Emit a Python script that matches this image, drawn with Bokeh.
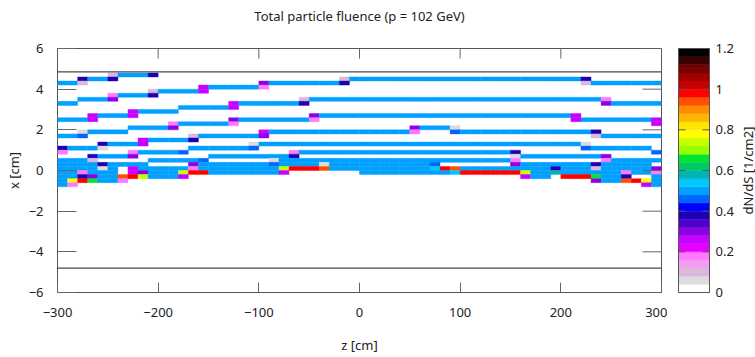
import math
from bokeh.plotting import figure
from bokeh.models import Range1d, FixedTicker, ColumnDataSource, LinearColorMapper, Span, Plot
from bokeh.core.properties import value
from bokeh.layouts import row, column
from bokeh.transform import transform
from bokeh.embed import file_html
from bokeh.resources import INLINE

FONT = "Noto Sans"
TXT = "#222222"

# ---------------- data ----------------
Z_START = -300.0   # first z bin edge [cm]
Z_BIN = 10.0       # z bin width [cm]
X_BIN = 0.2        # x bin height [cm]

# fluence level of each cell code [1/cm2]
LEVEL = {
    "b": 0.50, "D": 0.38, "L": 0.10, "P": 0.30, "M": 0.26, "p": 0.18,
    "g": 0.06, "B": 0.45, "r": 0.98, "o": 0.93, "y": 0.79, "Y": 0.74,
    "G": 0.65, "c": 0.54, "t": 0.58,
}

# x-bin index -> list of (first z bin, last z bin, level code)
ROWS = {
    23: [(5, 5, "L"), (6, 8, "b"), (9, 9, "D")],
    22: [(2, 2, "D"), (3, 4, "b"), (5, 5, "D"), (28, 28, "L"), (29, 51, "b"), (52, 52, "D")],
    21: [(0, 1, "b"), (2, 2, "L"), (20, 20, "P"), (21, 27, "b"), (28, 28, "D"), (52, 52, "L"), (53, 59, "b")],
    20: [(14, 14, "M"), (15, 19, "b"), (20, 20, "p")],
    19: [(9, 9, "L"), (10, 13, "b"), (14, 14, "M")],
    18: [(5, 5, "p"), (6, 8, "b"), (9, 9, "D")],
    17: [(2, 4, "b"), (5, 5, "P"), (24, 24, "L"), (25, 53, "b"), (54, 54, "p")],
    16: [(0, 1, "b"), (17, 17, "M"), (18, 23, "b"), (24, 24, "D"), (54, 54, "P"), (55, 59, "b")],
    15: [(12, 16, "b"), (17, 17, "M")],
    14: [(7, 7, "M"), (8, 11, "b")],
    13: [(3, 3, "M"), (4, 6, "b"), (7, 7, "M"), (25, 25, "P"), (26, 50, "b"), (51, 51, "M")],
    12: [(0, 2, "b"), (3, 3, "M"), (17, 17, "P"), (18, 24, "b"), (25, 25, "p"), (51, 51, "M"), (52, 58, "b"), (59, 59, "M")],
    11: [(11, 11, "p"), (12, 16, "b"), (17, 17, "p"), (59, 59, "M")],
    10: [(7, 10, "b"), (11, 11, "P"), (35, 35, "P"), (36, 38, "b"), (39, 39, "g")],
    9: [(2, 2, "g"), (3, 6, "b"), (20, 20, "M"), (21, 34, "b"), (35, 35, "p"), (39, 39, "B"), (40, 52, "b"), (53, 53, "D")],
    8: [(0, 1, "b"), (2, 2, "B"), (13, 13, "L"), (14, 19, "b"), (20, 20, "P"), (53, 53, "L"), (54, 59, "b")],
    7: [(8, 8, "M"), (9, 12, "b"), (13, 13, "D")],
    6: [(4, 4, "D"), (5, 7, "b"), (8, 8, "M"), (19, 19, "g"), (20, 51, "b"), (52, 52, "g")],
    5: [(0, 0, "D"), (1, 3, "b"), (4, 4, "g"), (13, 18, "b"), (19, 19, "B"), (52, 52, "B"), (53, 58, "b")],
    4: [(0, 0, "p"), (7, 7, "p"), (8, 11, "b"), (12, 12, "B"), (23, 23, "p"), (24, 44, "b"), (45, 45, "D"), (59, 59, "B")],
    3: [(3, 3, "D"), (4, 6, "b"), (7, 7, "P"), (15, 22, "b"), (23, 23, "D"), (45, 45, "g"), (46, 53, "b"), (54, 54, "P")],
    2: [(0, 2, "b"), (3, 3, "L"), (9, 13, "b"), (14, 14, "B"), (21, 21, "g"), (22, 44, "b"), (45, 45, "p"), (54, 54, "p"), (55, 59, "b")],
    1: [(0, 3, "b"), (4, 4, "D"), (5, 8, "b"), (13, 13, "P"), (14, 20, "b"), (21, 21, "B"), (22, 25, "b"), (26, 26, "g"),
        (27, 36, "b"), (37, 37, "B"), (45, 45, "P"), (46, 52, "b"), (53, 53, "D"), (54, 58, "b")],
    0: [(0, 3, "b"), (4, 4, "g"), (5, 5, "b"), (7, 7, "M"), (8, 12, "b"), (13, 13, "p"), (14, 21, "b"), (22, 22, "Y"),
        (23, 25, "r"), (26, 26, "o"), (27, 36, "b"), (37, 37, "c"), (38, 38, "r"), (39, 39, "o"), (40, 48, "b"),
        (49, 49, "D"), (50, 52, "b"), (53, 53, "L"), (54, 58, "b"), (59, 59, "P")],
    -1: [(0, 1, "b"), (2, 2, "p"), (3, 5, "b"), (7, 7, "M"), (8, 8, "P"), (9, 11, "b"), (12, 12, "Y"), (13, 14, "r"),
         (15, 21, "b"), (22, 22, "M"), (30, 38, "b"), (39, 39, "c"), (40, 45, "r"), (46, 46, "Y"), (47, 48, "b"),
         (49, 49, "t"), (50, 55, "b"), (56, 56, "p"), (57, 58, "b"), (59, 59, "p")],
    -2: [(0, 1, "b"), (2, 2, "D"), (3, 3, "P"), (4, 5, "b"), (6, 6, "o"), (7, 7, "r"), (8, 8, "Y"), (9, 11, "b"),
         (12, 12, "M"), (46, 46, "M"), (47, 48, "b"), (50, 52, "r"), (53, 53, "G"), (54, 55, "b"), (56, 56, "D"), (59, 59, "b")],
    -3: [(0, 0, "b"), (1, 1, "y"), (2, 2, "r"), (3, 3, "G"), (4, 5, "b"), (6, 6, "p"), (53, 53, "P"), (54, 55, "b"),
         (56, 56, "o"), (57, 57, "r"), (58, 58, "y"), (59, 59, "b")],
    -4: [(0, 0, "b"), (1, 1, "p"), (58, 58, "M"), (59, 59, "b")],
}

# horizontal boundary lines [cm]
BOUNDARY_X = [4.85, -4.8]

TITLE = "Total particle fluence (p = 102 GeV)"
Z_TICKS = [-300, -200, -100, 0, 100, 200, 300]
X_TICKS = [-6, -4, -2, 0, 2, 4, 6]
CB_TICKS = [0, 0.2, 0.4, 0.6, 0.8, 1.0, 1.2]
CB_LABELS = ["0", "0.2", "0.4", "0.6", "0.8", "1", "1.2"]
CB_TITLE = "dN/dS [1/cm2]"
CB_LOW, CB_HIGH = 0.0, 1.2

PALETTE = [
    "#ffffff", "#dcdcdc", "#dcb9dc", "#f0a0f0", "#ff78ff", "#e600ff", "#c800ff",
    "#8c00e6", "#5000c8", "#1e00b4", "#0000ff", "#0064ff", "#00a0ff", "#00c8ff",
    "#00b4b4", "#00c864", "#00e632", "#96ff00", "#c8ff00", "#ffff00", "#ffe600",
    "#ffb400", "#ff8c00", "#ff5000", "#ff0000", "#c80000", "#a00000", "#780000",
    "#3c0000", "#000000",
]

# ---------------- build cells ----------------
zc, xc, vv = [], [], []
for r, segs in ROWS.items():
    for c0, c1, code in segs:
        for c in range(c0, c1 + 1):
            zc.append(Z_START + Z_BIN * (c + 0.5))
            xc.append(X_BIN * (r + 0.5))
            vv.append(LEVEL[code])
src = ColumnDataSource(dict(z=zc, x=xc, v=vv))
mapper = LinearColorMapper(palette=PALETTE, low=CB_LOW, high=CB_HIGH)

ALIGN_OK = "frame_align" in Plot.properties()


def no_align(fig):
    if ALIGN_OK:
        fig.frame_align = False


# ---------------- geometry ----------------
W_TOTAL = 755
TITLE_H = 30
FRAME_W, FRAME_H = 604, 244
LEFT_B, MAIN_W = 57, 667
TOP_B, BOTTOM_B = 48 - TITLE_H, 65
PLOT_H = 357 - TITLE_H
Z_LO, Z_HI, X_LO, X_HI = -300, 300, -6, 6

# ---------------- title strip ----------------
tf = figure(width=W_TOTAL, height=TITLE_H, x_range=Range1d(Z_LO, Z_HI), y_range=Range1d(0, TITLE_H),
            output_backend="svg", toolbar_location=None, x_axis_location=None, y_axis_location=None,
            min_border_left=LEFT_B, min_border_right=W_TOTAL - LEFT_B - FRAME_W,
            min_border_top=0, min_border_bottom=0)
tf.grid.visible = False
tf.outline_line_color = None
no_align(tf)
tf.text(x=[(Z_LO + Z_HI) / 2], y=[TITLE_H - 15], text=[TITLE], text_font=value(FONT),
        text_font_size="13px", text_color=TXT, text_align="center", text_baseline="middle")

# ---------------- main plot ----------------
p = figure(width=MAIN_W, height=PLOT_H, x_range=Range1d(Z_LO, Z_HI), y_range=Range1d(X_LO, X_HI),
           output_backend="svg", toolbar_location=None,
           min_border_left=LEFT_B, min_border_right=MAIN_W - LEFT_B - FRAME_W,
           min_border_top=TOP_B, min_border_bottom=BOTTOM_B)
no_align(p)
p.rect(x="z", y="x", width=Z_BIN, height=X_BIN, source=src,
       fill_color=transform("v", mapper), line_color=transform("v", mapper), line_width=0.4)
for bx in BOUNDARY_X:
    p.add_layout(Span(location=bx, dimension="width", line_color="#4a4a4a", line_width=1.3))

# mirrored inward ticks on the top and right borders
ZT_LEN = 10 * (X_HI - X_LO) / FRAME_H      # 10 px
XT_LEN = 19 * (Z_HI - Z_LO) / FRAME_W      # 19 px
p.segment(x0=Z_TICKS, x1=Z_TICKS, y0=[X_HI] * len(Z_TICKS), y1=[X_HI - ZT_LEN] * len(Z_TICKS),
          line_color="#666666", line_width=1)
p.segment(x0=[Z_HI] * len(X_TICKS), x1=[Z_HI - XT_LEN] * len(X_TICKS), y0=X_TICKS, y1=X_TICKS,
          line_color="#666666", line_width=1)

p.grid.visible = False
p.outline_line_color = "#555555"
p.outline_line_width = 1


def style_axis(ax, ticks, tick_in):
    ax.ticker = FixedTicker(ticks=ticks)
    ax.major_tick_in = tick_in
    ax.major_tick_out = 0
    ax.minor_tick_line_color = None
    ax.axis_line_color = None
    ax.major_tick_line_color = "#666666"
    ax.major_label_text_font = FONT
    ax.major_label_text_font_size = "13px"
    ax.major_label_text_color = TXT
    ax.axis_label_text_font = FONT
    ax.axis_label_text_font_size = "13px"
    ax.axis_label_text_font_style = "normal"
    ax.axis_label_text_color = TXT


style_axis(p.xaxis[0], Z_TICKS, 10)
p.xaxis[0].axis_label = "z [cm]"
p.xaxis[0].major_label_standoff = 15
p.xaxis[0].axis_label_standoff = 16

style_axis(p.yaxis[0], X_TICKS, 19)
p.yaxis[0].axis_label = "x [cm]"
p.yaxis[0].major_label_standoff = 14
p.yaxis[0].axis_label_standoff = 3

# ---------------- colour bar (pixel-unit x canvas) ----------------
CB_W = W_TOTAL - MAIN_W
BAR_L, BAR_R = 11, 42
TICK_PX = 7
PAD_PX = 12 if ALIGN_OK else 0
pad = PAD_PX * (CB_HIGH - CB_LOW) / FRAME_H
n = len(PALETTE)
edges = [CB_LOW + (CB_HIGH - CB_LOW) * i / n for i in range(n + 1)]

cb = figure(width=CB_W, height=PLOT_H, x_range=Range1d(0, CB_W), y_range=Range1d(CB_LOW - pad, CB_HIGH + pad),
            output_backend="svg", toolbar_location=None, x_axis_location=None, y_axis_location=None,
            min_border_left=0, min_border_right=0, min_border_top=TOP_B - PAD_PX,
            min_border_bottom=BOTTOM_B - PAD_PX)
no_align(cb)
cb.grid.visible = False
cb.outline_line_color = None
cb.quad(left=BAR_L, right=BAR_R, bottom=edges[:-1], top=edges[1:],
        fill_color=PALETTE, line_color=PALETTE, line_width=0.4)
cb.quad(left=BAR_L, right=BAR_R, bottom=CB_LOW, top=CB_HIGH, fill_color=None,
        line_color="#555555", line_width=1)
k = len(CB_TICKS)
cb.segment(x0=[BAR_L] * k, x1=[BAR_L + TICK_PX] * k, y0=CB_TICKS, y1=CB_TICKS, line_color="#555555")
cb.segment(x0=[BAR_R - TICK_PX] * k, x1=[BAR_R] * k, y0=CB_TICKS, y1=CB_TICKS, line_color="#555555")
cb.text(x=[BAR_R + 6] * k, y=CB_TICKS, text=CB_LABELS, text_font=value(FONT), text_font_size="13px",
        text_color=TXT, text_align="left", text_baseline="middle")
cb.text(x=[80], y=[(CB_LOW + CB_HIGH) / 2], text=[CB_TITLE], angle=math.pi / 2,
        text_font=value(FONT), text_font_size="13px", text_color=TXT,
        text_align="center", text_baseline="middle")

layout = column(tf, row(p, cb))
open("out.html", "w").write(file_html(layout, INLINE))
